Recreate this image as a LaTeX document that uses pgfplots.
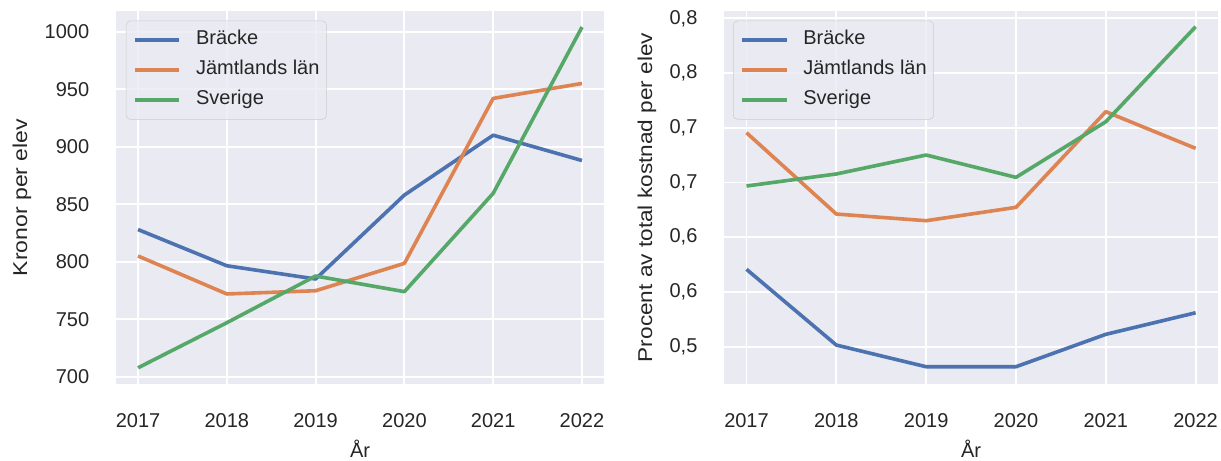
\documentclass[border=0pt]{standalone}
\usepackage{fontspec}
\setmainfont{Liberation Sans}
\usepackage{pgfplots}
\pgfplotsset{compat=1.18}

\definecolor{sbblue}{HTML}{4C72B0}
\definecolor{sborange}{HTML}{DD8452}
\definecolor{sbgreen}{HTML}{55A868}
\definecolor{sbbg}{HTML}{EAEAF2}
\definecolor{sbtext}{HTML}{262626}
\definecolor{sbedge}{HTML}{CCCCCC}

\pgfplotsset{
  darkgrid/.style={
    scale only axis,
    height=268.6pt,
    axis background/.style={fill=sbbg},
    axis line style={draw=none},
    major tick length=0pt,
    grid=major,
    major grid style={white, line width=1.4pt},
    font=\fontsize{14.4}{17}\selectfont,
    every tick label/.append style={text=sbtext},
    label style={text=sbtext},
    xmin=2016.75, xmax=2022.25,
    xtick={2017,2018,2019,2020,2021,2022},
    xticklabels={2017,2018,2019,2020,2021,2022},
    xticklabel style={anchor=base, yshift=-31pt},
    yticklabel style={anchor=east, inner sep=0pt, xshift=-19pt},
    xlabel={År},
    xlabel style={at={(axis description cs:0.5,-0.198)}, anchor=base},
    legend cell align=left,
    legend image code/.code={\draw[#1] (0pt,0pt) -- (32pt,0pt);},
    legend style={
      anchor=north west, draw=sbedge, fill=sbbg, fill opacity=0.8,
      text opacity=1, text=sbtext, rounded corners=3pt,
      inner xsep=5pt, inner ysep=3pt, row sep=0pt,
      font=\fontsize{14.4}{17}\selectfont,
      nodes={inner xsep=0pt, inner ysep=3.8pt, text height=10.5pt, text depth=3.5pt},
      /tikz/every odd column/.append style={column sep=10.8pt},
    },
    every axis plot/.append style={line width=2.6pt, line join=round},
  }
}

\begin{document}
\begin{tikzpicture}
\useasboundingbox (0,0) rectangle (879.1pt,331.9pt);

% vänster: kronor per elev
\begin{axis}[
  darkgrid,
  at={(83.4pt,55.4pt)}, anchor=south west,
  width=351.6pt,
  ymin=693.7, ymax=1018,
  ytick={700,750,800,850,900,950,1000},
  yticklabels={700,750,800,850,900,950,1000},
  ylabel={Kronor per elev},
  ylabel style={at={(axis description cs:-0.1818,0.5)}, anchor=base, xscale=1.15},
  legend style={at={(0.0205,0.974)}},
]
\addplot[sbblue] coordinates {
  (2017,828) (2018,796.5) (2019,785) (2020,858) (2021,910) (2022,888)
};
\addplot[sborange] coordinates {
  (2017,805) (2018,772) (2019,774.8) (2020,798.6) (2021,942) (2022,955)
};
\addplot[sbgreen] coordinates {
  (2017,707.8) (2018,747) (2019,787.6) (2020,774) (2021,859.5) (2022,1004)
};
\legend{Bräcke,Jämtlands län,Sverige}
\end{axis}

% höger: procent av total kostnad
\begin{axis}[
  darkgrid,
  at={(521.3pt,55.4pt)}, anchor=south west,
  width=355.7pt,
  ymin=0.4659, ymax=0.8067,
  ytick={0.5,0.55,0.6,0.65,0.7,0.75,0.8},
  yticklabels={{0,5},{0,6},{0,6},{0,7},{0,7},{0,8},{0,8}},
  ylabel={Procent av total kostnad per elev},
  ylabel style={at={(axis description cs:-0.1457,0.5)}, anchor=base, xscale=1.13},
  legend style={at={(0.0182,0.974)}},
]
\addplot[sbblue] coordinates {
  (2017,0.5707) (2018,0.5015) (2019,0.4817) (2020,0.4817) (2021,0.5113) (2022,0.531)
};
\addplot[sborange] coordinates {
  (2017,0.6955) (2018,0.6212) (2019,0.6151) (2020,0.6273) (2021,0.7147) (2022,0.6812)
};
\addplot[sbgreen] coordinates {
  (2017,0.6468) (2018,0.6578) (2019,0.6751) (2020,0.6547) (2021,0.7055) (2022,0.7923)
};
\legend{Bräcke,Jämtlands län,Sverige}
\end{axis}
\end{tikzpicture}
\end{document}
